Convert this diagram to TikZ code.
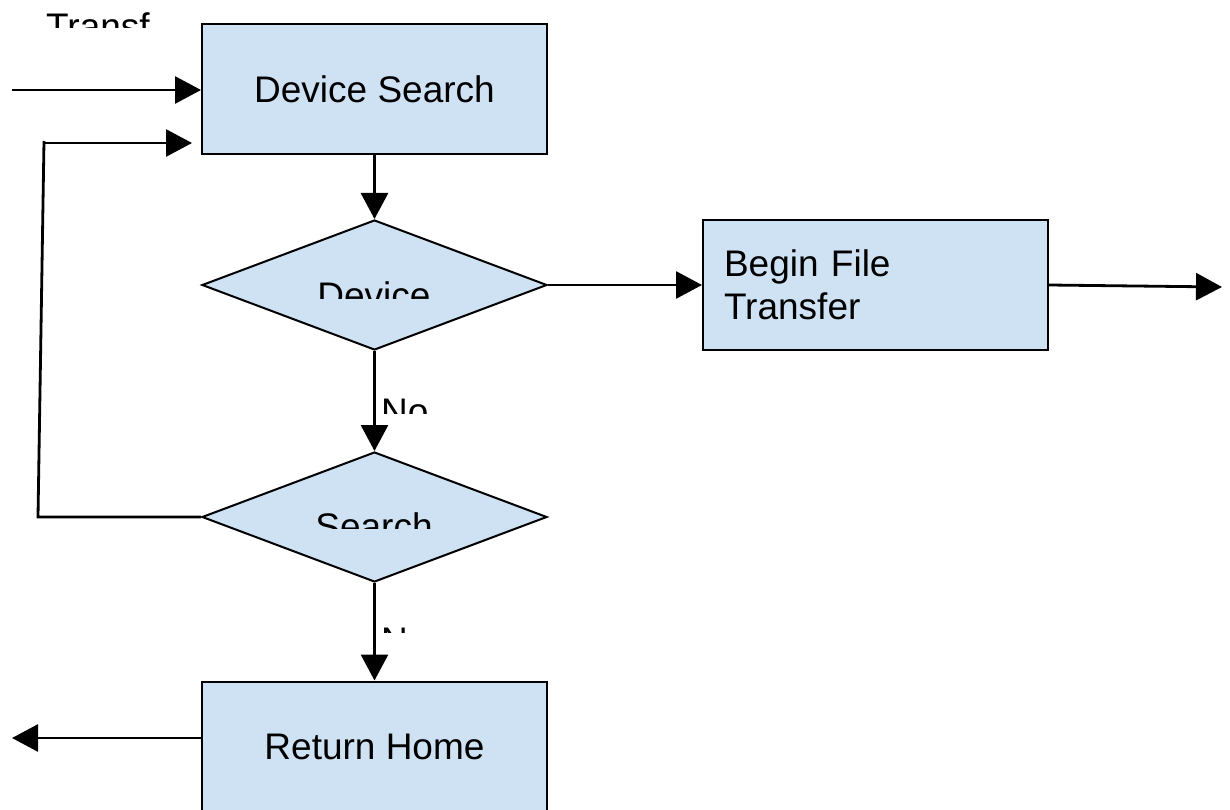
\documentclass[tikz,border=0pt]{standalone}
\usepackage{fontspec}
\setmainfont{Liberation Sans}
\usetikzlibrary{arrows.meta,shapes.geometric}

\definecolor{boxfill}{HTML}{CFE2F3}

\tikzset{
  stepbox/.style={draw=black, line width=2pt, fill=boxfill, rectangle,
    minimum width=345pt, minimum height=130pt, inner sep=0pt,
    font=\fontsize{37}{43}\selectfont},
  decision/.style={draw=black, line width=2pt, fill=boxfill, diamond,
    minimum width=345pt, minimum height=130pt, inner sep=0pt},
  lbl/.style={inner sep=0pt, font=\fontsize{37}{43}\selectfont},
  arr/.style={line width=2.8pt, -{Triangle[length=26pt,width=27pt]}},
  plain/.style={line width=2.8pt}
}

\begin{document}
\begin{tikzpicture}[x=1pt,y=-1pt]
\clip (0,0) rectangle (1230,810);
\fill[white] (0,0) rectangle (1230,810);

% process boxes
\node[stepbox] (ds) at (374.5,89) {Device Search};
\node[stepbox, text width=303pt, align=left, inner xsep=21pt] (bf) at (875.5,285) {Begin File\\Transfer};
\node[stepbox] (rh) at (374.5,746.5) {Return Home};

% decisions
\node[decision] (d1) at (374.5,285) {};
\node[decision] (d2) at (374.5,517) {};

% cut-off captions
\begin{scope}
  \clip (30,0) rectangle (200,28);
  \node[lbl, anchor=base west] (tf) at (46,40) {Transf};
\end{scope}
\begin{scope}
  \clip (260,260) rectangle (490,298);
  \node[lbl, anchor=base] (d1t) at (374,308.5) {Device};
\end{scope}
\begin{scope}
  \clip (260,490) rectangle (490,528.5);
  \node[lbl, anchor=base] (d2t) at (374,539) {Search};
\end{scope}
\begin{scope}
  \clip (378,385) rectangle (480,413);
  \node[lbl, anchor=base west] (no1) at (381,424.5) {No};
\end{scope}
\begin{scope}
  \clip (378,615) rectangle (480,632);
  \node[lbl, anchor=base west] (no2) at (381,653.5) {No};
\end{scope}

% free ends
\coordinate (inS) at (12,90);
\coordinate (outE) at (1222,287);
\coordinate (retW) at (12,738);
\coordinate (lpA) at (38,517);
\coordinate (lpB) at (44,141);
\coordinate (lpC) at (44,143);
\coordinate (lpD) at (192,143);

% connectors
\draw[arr] (inS) -- (ds.west |- inS);
\draw[arr] (ds.south) -- (d1.north);
\draw[arr] (d1.east) -- (bf.west);
\draw[arr] (bf.east) -- (outE);
\draw[arr] (d1.south) -- (d2.north);
\draw[arr] (d2.south) -- (rh.north);
\draw[arr] (rh.west |- retW) -- (retW);
\draw[plain] (d2.west) -- (lpA) -- (lpB);
\draw[arr] (lpC) -- (lpD);
\end{tikzpicture}
\end{document}
